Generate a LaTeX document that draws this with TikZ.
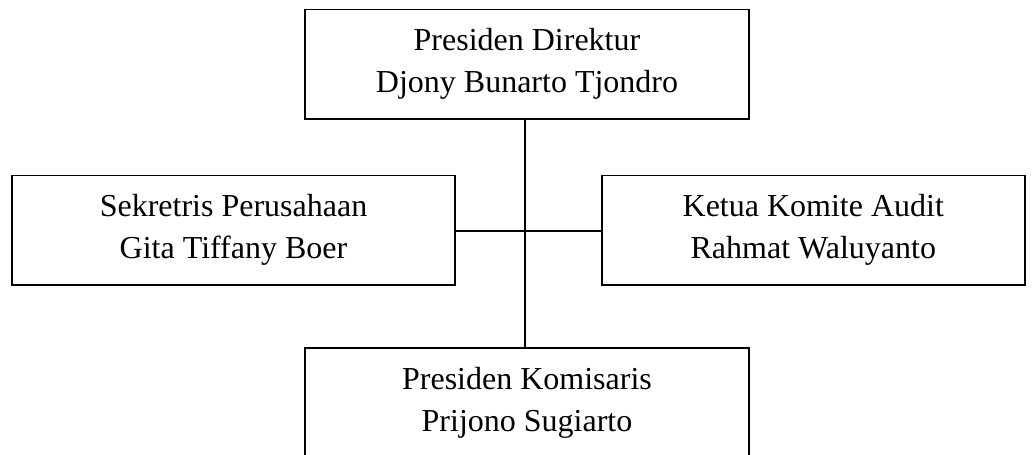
\documentclass[tikz,border=0pt]{standalone}
\usepackage{fontspec}
\setmainfont{Liberation Serif}
\begin{document}
\begin{tikzpicture}[x=1pt,y=-1pt,
  orgbox/.style={draw=black, line width=1.8pt, rectangle, align=center,
    minimum height=109.5pt, inner sep=0pt,
    font=\fontsize{32}{42}\selectfont},
  link/.style={draw=black, line width=1.8pt}]
  \useasboundingbox (0,0) rectangle (1034,455);
  \clip (0,0) rectangle (1034,455);
  \fill[white] (0,0) rectangle (1034,455);

  % organisation boxes
  \node[orgbox, minimum width=444pt] (pd) at (527,64.3)
    {Presiden Direktur\\Djony Bunarto Tjondro};
  \node[orgbox, minimum width=443.6pt] (sek) at (233.5,230.3)
    {Sekretris Perusahaan\\Gita Tiffany Boer};
  \node[orgbox, minimum width=423.3pt] (kom) at (813.3,230.3)
    {Ketua Komite Audit\\Rahmat Waluyanto};
  \node[orgbox, minimum width=444pt] (pk) at (527,402.5)
    {Presiden Komisaris\\Prijono Sugiarto};

  % connectors
  \coordinate (hub) at (525.3,231.3);
  \draw[link] (pd.south -| hub) -- (pk.north -| hub);
  \draw[link] (sek.east |- hub) -- (kom.west |- hub);
\end{tikzpicture}
\end{document}
